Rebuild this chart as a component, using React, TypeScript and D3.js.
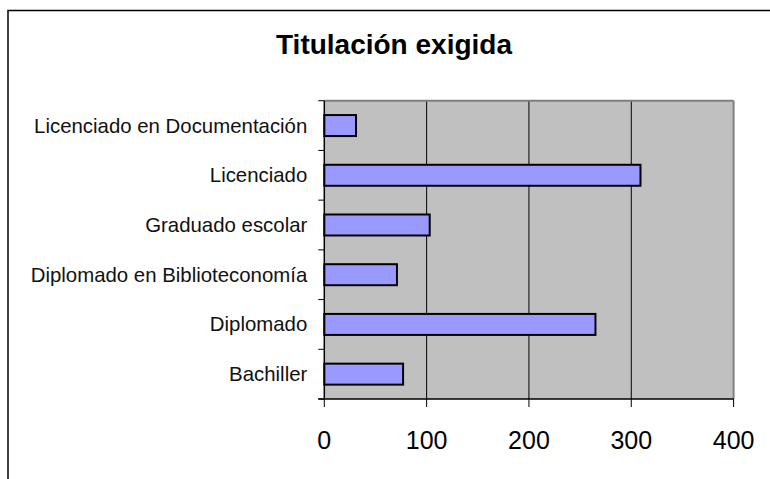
import React from "react";
import * as d3 from "d3";

const categories = [
  "Licenciado en Documentación",
  "Licenciado",
  "Graduado escolar",
  "Diplomado en Biblioteconomía",
  "Diplomado",
  "Bachiller",
];
const values = [31, 309, 103, 71, 265, 77];
const xTicks = [0, 100, 200, 300, 400];
const title = "Titulación exigida";

const W = 770;
const H = 479;
const plot = { left: 324.3, right: 733.6, top: 100.7, bottom: 399 };
const FONT = "'Liberation Sans', Arial, sans-serif";

export default function App() {
  const x = d3.scaleLinear().domain([0, 400]).range([plot.left, plot.right]);
  const y = d3.scaleBand().domain(categories).range([plot.top, plot.bottom]).paddingInner(0).paddingOuter(0);
  const bw = y.bandwidth();
  const barH = 21;
  const boundaries = d3.range(categories.length + 1).map((i) => plot.top + i * bw);

  return (
    <svg width={W} height={H} style={{ position: "absolute", left: 0, top: 0, background: "#fff" }}>
      <rect x={8} y={10.5} width={W + 20} height={H + 20} fill="#fff" stroke="#000" strokeWidth={1.5} />
      <text x={394} y={53.5} textAnchor="middle" fontFamily={FONT} fontWeight="bold" fontSize={28} fill="#000">
        {title}
      </text>
      <rect x={plot.left} y={plot.top} width={plot.right - plot.left} height={plot.bottom - plot.top} fill="#C0C0C0" />
      {xTicks.slice(1, -1).map((t) => (
        <line key={"g" + t} x1={x(t)} x2={x(t)} y1={plot.top} y2={plot.bottom} stroke="#000" strokeWidth={1} />
      ))}
      <line x1={plot.left} x2={plot.right} y1={plot.top} y2={plot.top} stroke="#808080" strokeWidth={2} />
      <line x1={plot.right} x2={plot.right} y1={plot.top} y2={plot.bottom} stroke="#808080" strokeWidth={2} />
      {categories.map((c, i) => (
        <rect
          key={c}
          x={x(0)}
          y={(y(c) as number) + (bw - barH) / 2}
          width={x(values[i]) - x(0)}
          height={barH}
          fill="#9999FF"
          stroke="#000"
          strokeWidth={2}
        />
      ))}
      <line x1={plot.left} x2={plot.left} y1={plot.top} y2={plot.bottom} stroke="#000" strokeWidth={1.5} />
      <line x1={plot.left - 6} x2={plot.right} y1={plot.bottom} y2={plot.bottom} stroke="#000" strokeWidth={1.5} />
      {boundaries.map((b, i) => (
        <line key={"yt" + i} x1={plot.left - 6} x2={plot.left} y1={b} y2={b} stroke="#000" strokeWidth={1} />
      ))}
      {xTicks.map((t) => (
        <line key={"xt" + t} x1={x(t)} x2={x(t)} y1={plot.bottom} y2={plot.bottom + 8} stroke="#000" strokeWidth={1} />
      ))}
      {categories.map((c) => (
        <text
          key={"l" + c}
          x={plot.left - 17}
          y={(y(c) as number) + bw / 2 + 7}
          textAnchor="end"
          fontFamily={FONT}
          fontSize={20.4}
          fill="#111"
        >
          {c}
        </text>
      ))}
      {xTicks.map((t) => (
        <text key={"xl" + t} x={x(t)} y={449} textAnchor="middle" fontFamily={FONT} fontSize={25} fill="#000">
          {t}
        </text>
      ))}
    </svg>
  );
}
